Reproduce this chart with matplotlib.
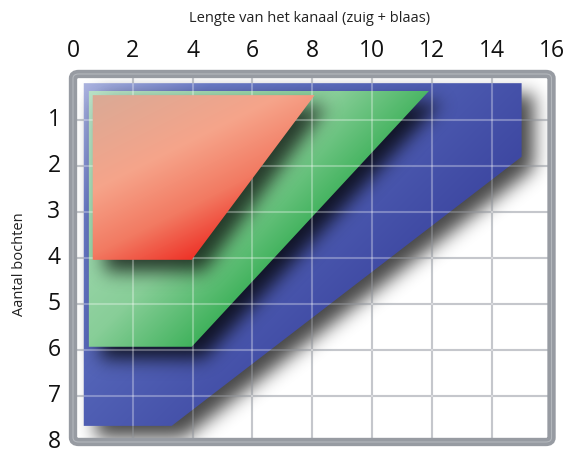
import numpy as np
import matplotlib
matplotlib.use('Agg')
import matplotlib.pyplot as plt
import matplotlib.transforms as mtransforms
from matplotlib.patches import Polygon, FancyBboxPatch
from matplotlib.path import Path
from matplotlib.colors import LinearSegmentedColormap

plt.rcParams['font.family'] = ['Open Sans', 'DejaVu Sans']

# corner points of the three regions (x = kanaal lengte, y = aantal bochten)
blue_x = [0.36, 15.0, 15.0, 3.3, 0.36]
blue_y = [0.2, 0.2, 1.8, 7.65, 7.65]
green_x = [0.53, 11.9, 3.97, 0.53]
green_y = [0.37, 0.37, 5.93, 5.93]
red_x = [0.66, 8.08, 3.97, 0.66]
red_y = [0.46, 0.46, 4.04, 4.04]

x_ticks = [0, 2, 4, 6, 8, 10, 12, 14, 16]
y_ticks = [1, 2, 3, 4, 5, 6, 7, 8]

fig = plt.figure(figsize=(5.73, 4.55), dpi=100)
ax = fig.add_axes([0.1274, 0.0286, 0.8351, 0.8088])
ax.set_xlim(0, 16)
ax.set_ylim(8, 0)

# pixel grid over the axes, used for gradients and soft shadows
W, H = 480, 368
xs = (np.arange(W) + 0.5) / W * 16
ys = (np.arange(H) + 0.5) / H * 8
X, Y = np.meshgrid(xs, ys)
pts = np.column_stack([X.ravel(), Y.ravel()])
px_x = 16 / W
px_y = 8 / H


def blur(a, s):
    r = np.arange(-3 * s, 3 * s + 1)
    k = np.exp(-0.5 * (r / s) ** 2)
    k /= k.sum()
    a = np.apply_along_axis(lambda v: np.convolve(v, k, mode='same'), 1, a)
    a = np.apply_along_axis(lambda v: np.convolve(v, k, mode='same'), 0, a)
    return a


def shadow(vx, vy, z, strength=0.75, off=12, sigma=9):
    verts = np.column_stack([np.array(vx) + off * px_x, np.array(vy) + off * px_y])
    m = Path(verts).contains_points(pts).reshape(H, W).astype(float)
    m = blur(m, sigma)
    img = np.zeros((H, W, 4))
    img[..., 3] = np.clip(m * strength, 0, 1)
    ax.imshow(img, extent=(0, 16, 8, 0), origin='upper', interpolation='bilinear',
              zorder=z, aspect='auto')


def shape(vx, vy, colors, stops, direction, z):
    vx = np.array(vx)
    vy = np.array(vy)
    a, b = direction
    t = a * (X - vx.min()) / px_x + b * (Y - vy.min()) / px_y
    tv = a * (vx - vx.min()) / px_x + b * (vy - vy.min()) / px_y
    t = np.clip(t / tv.max(), 0, 1)
    cmap = LinearSegmentedColormap.from_list('g', list(zip(stops, colors)))
    im = ax.imshow(cmap(t), extent=(0, 16, 8, 0), origin='upper',
                   interpolation='bilinear', zorder=z, aspect='auto')
    poly = Polygon(np.column_stack([vx, vy]), closed=True, transform=ax.transData)
    im.set_clip_path(poly)


# base grid
for x in x_ticks[1:-1]:
    ax.axvline(x, color='#acb0b7', lw=1.5, zorder=1)
for y in y_ticks[:-1]:
    ax.axhline(y, color='#acb0b7', lw=1.5, zorder=1)

shadow(blue_x, blue_y, 2, strength=0.72)
shape(blue_x, blue_y, ['#aab2de', '#6a7ac6', '#5262b6', '#3e48a2'],
      [0, 0.25, 0.6, 1], (1, 1), 3)
shadow(green_x, green_y, 4, strength=0.78)
shape(green_x, green_y, ['#b8e0c6', '#88ce98', '#40b25c'], [0, 0.7, 1], (1, 1), 5)
shadow(red_x, red_y, 6, strength=0.72)

# light grid lines over the coloured areas
for x in x_ticks[1:-1]:
    ax.axvline(x, color='white', alpha=0.3, lw=1.5, zorder=7)
for y in y_ticks[:-1]:
    ax.axhline(y, color='white', alpha=0.3, lw=1.5, zorder=7)

shape(red_x, red_y, ['#d9aa96', '#f6a48a', '#f27a62', '#ee3328'],
      [0, 0.45, 0.75, 1], (0.5, 1), 8)

# frame
for sp in ax.spines.values():
    sp.set_visible(False)
frame = FancyBboxPatch((0, 0), 1, 1, boxstyle='round,pad=0,rounding_size=0.012',
                       transform=ax.transAxes, fill=False, ec='#979ba2', lw=6,
                       zorder=10, clip_on=False)
ax.add_patch(frame)
frame2 = FancyBboxPatch((0, 0), 1, 1, boxstyle='round,pad=0,rounding_size=0.012',
                        transform=ax.transAxes, fill=False, ec='#b3b7bc', lw=0.8,
                        zorder=11, clip_on=False)
ax.add_patch(frame2)

ax.xaxis.tick_top()
ax.set_xticks(x_ticks)
ax.set_yticks(y_ticks)
ax.tick_params(length=0, labelsize=16.5, colors='#111111')
ax.tick_params(axis='x', pad=8)
ax.tick_params(axis='y', pad=9)
shift = mtransforms.ScaledTranslation(0, 3 / 100, fig.dpi_scale_trans)
for lab in ax.get_yticklabels():
    lab.set_transform(lab.get_transform() + shift)

fig.text(0.541, 1 - 18 / 455, 'Lengte van het kanaal (zuig + blaas)',
         ha='center', va='center', fontsize=10.5, color='#222222')
fig.text(20 / 573, 1 - 264 / 455, 'Aantal bochten', rotation=90,
         ha='center', va='center', fontsize=10.5, color='#222222')

fig.savefig('out.png', dpi=100)
